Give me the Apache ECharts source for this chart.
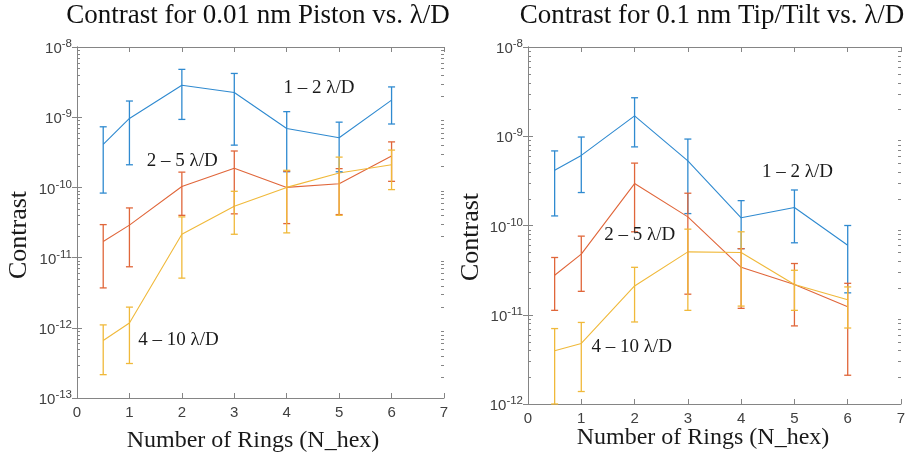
<!DOCTYPE html>
<html>
<head>
<meta charset="utf-8">
<script src="https://cdn.jsdelivr.net/npm/echarts@6/dist/echarts.min.js"></script>
<style>
    html, body { margin: 0; padding: 0; background: #fff; }
    #chart { width: 918px; height: 458px; }
</style>
</head>
<body>
<div id="chart"></div>
<script>
// x positions (number of rings)
const rings = [0.5, 1, 2, 3, 4, 5, 6];
const xTicks = [0, 1, 2, 3, 4, 5, 6, 7];

// Contrast for 0.01 nm piston
const piston12 = [4.1e-10, 9.6e-10, 2.85e-9, 2.25e-9, 6.9e-10, 5.1e-10, 1.75e-9];
const piston12Lo = [8.3e-11, 2.1e-10, 9.3e-10, 4.0e-10, 1.67e-10, 1.67e-10, 8.0e-10];
const piston12Hi = [7.3e-10, 1.7e-9, 4.8e-9, 4.2e-9, 1.2e-9, 8.5e-10, 2.7e-9];
const piston25 = [1.7e-11, 2.9e-11, 1.03e-10, 1.88e-10, 1.0e-10, 1.13e-10, 2.8e-10];
const piston25Lo = [3.7e-12, 7.4e-12, 4.0e-11, 4.2e-11, 3.05e-11, 4.1e-11, 1.22e-10];
const piston25Hi = [2.95e-11, 5.1e-11, 1.65e-10, 3.3e-10, 1.7e-10, 1.85e-10, 4.45e-10];
const piston410 = [6.6e-13, 1.17e-12, 2.15e-11, 5.4e-11, 1.0e-10, 1.6e-10, 2.1e-10];
const piston410Lo = [2.15e-13, 3.1e-13, 5.1e-12, 2.15e-11, 2.25e-11, 4.0e-11, 9.3e-11];
const piston410Hi = [1.1e-12, 1.97e-12, 3.8e-11, 8.8e-11, 1.75e-10, 2.7e-10, 3.4e-10];

// Contrast for 0.1 nm tip/tilt
const tipTilt12 = [4.15e-10, 6.1e-10, 1.69e-9, 5.3e-10, 1.22e-10, 1.59e-10, 6.0e-11];
const tipTilt12Lo = [1.28e-10, 2.34e-10, 7.6e-10, 1.36e-10, 5.5e-11, 6.4e-11, 1.76e-11];
const tipTilt12Hi = [6.85e-10, 9.8e-10, 2.7e-9, 9.3e-10, 1.9e-10, 2.5e-10, 1.0e-10];
const tipTilt25 = [2.77e-11, 4.77e-11, 2.95e-10, 1.25e-10, 3.4e-11, 2.18e-11, 1.23e-11];
const tipTilt25Lo = [1.12e-11, 1.83e-11, 8.5e-11, 1.7e-11, 1.18e-11, 7.5e-12, 2.1e-12];
const tipTilt25Hi = [4.38e-11, 7.6e-11, 5.0e-10, 2.3e-10, 5.5e-11, 3.75e-11, 2.25e-11];
const tipTilt410 = [3.95e-12, 4.77e-12, 2.1e-11, 5.06e-11, 4.98e-11, 2.18e-11, 1.47e-11];
const tipTilt410Lo = [1.0e-12, 1.38e-12, 8.3e-12, 1.12e-11, 1.25e-11, 1.12e-11, 7.1e-12];
const tipTilt410Hi = [7.0e-12, 8.2e-12, 3.4e-11, 9.1e-11, 8.5e-11, 3.15e-11, 2.05e-11];

const bandNames = ['1 \u2013 2 \u03bb/D', '2 \u2013 5 \u03bb/D', '4 \u2013 10 \u03bb/D'];
// where the band labels sit, in data coordinates
const pistonLabelAt = [[3.94, 2.57e-9], [1.33, 2.37e-10], [1.17, 6.7e-13]];
const tipTiltLabelAt = [[4.39, 3.98e-10], [1.43, 7.8e-11], [1.19, 4.37e-12]];

const colors = ['#2f8ad0', '#e0663a', '#f0b93a'];
const axisColor = '#858585';
const serif = '"Liberation Serif", "Times New Roman", serif';
const sans = '"Liberation Sans", Arial, sans-serif';

const panels = [
    {
        title: 'Contrast for 0.01 nm Piston vs. \u03bb/D',
        grid: { left: 77, top: 47, width: 367, height: 351 },
        yMin: 1e-13, yMax: 1e-8,
        mid: [piston12, piston25, piston410],
        lo: [piston12Lo, piston25Lo, piston410Lo],
        hi: [piston12Hi, piston25Hi, piston410Hi],
        labelAt: pistonLabelAt,
        titleX: 258, xNameX: 253, xNameY: 441, yNameX: 19, yNameY: 235
    },
    {
        title: 'Contrast for 0.1 nm Tip/Tilt vs. \u03bb/D',
        grid: { left: 528, top: 47, width: 373, height: 357 },
        yMin: 1e-12, yMax: 1e-8,
        mid: [tipTilt12, tipTilt25, tipTilt410],
        lo: [tipTilt12Lo, tipTilt25Lo, tipTilt410Lo],
        hi: [tipTilt12Hi, tipTilt25Hi, tipTilt410Hi],
        labelAt: tipTiltLabelAt,
        titleX: 712, xNameX: 703, xNameY: 438, yNameX: 471, yNameY: 237
    }
];

const errorBarItem = (params, api) => {
    const x = api.value(0);
    const lo = api.coord([x, api.value(1)]);
    const hi = api.coord([x, api.value(2)]);
    const half = 3.5;
    const style = { stroke: api.visual('color'), lineWidth: 1.3, fill: null };
    return {
        type: 'group',
        children: [
            { type: 'line', shape: { x1: lo[0], y1: lo[1], x2: hi[0], y2: hi[1] }, style },
            { type: 'line', shape: { x1: lo[0] - half, y1: lo[1], x2: lo[0] + half, y2: lo[1] }, style },
            { type: 'line', shape: { x1: hi[0] - half, y1: hi[1], x2: hi[0] + half, y2: hi[1] }, style }
        ]
    };
};

// minor log ticks (2..9 x 10^n) on both the left and right frame
const minorTickItem = (params, api) => {
    const y = Math.round(api.coord([0, api.value(1)])[1]) + 0.5;
    const r = params.coordSys;
    const style = { stroke: axisColor, lineWidth: 1 };
    return {
        type: 'group',
        children: [
            { type: 'line', shape: { x1: r.x, y1: y, x2: r.x + 3, y2: y }, style },
            { type: 'line', shape: { x1: r.x + r.width - 3, y1: y, x2: r.x + r.width, y2: y }, style }
        ]
    };
};

const bandLabelItem = (params, api) => {
    const p = api.coord([api.value(0), api.value(1)]);
    return {
        type: 'text',
        x: p[0],
        y: p[1],
        style: {
            text: bandNames[params.dataIndex],
            fill: '#1a1a1a',
            font: '19px ' + serif,
            align: 'left',
            verticalAlign: 'middle'
        }
    };
};

const minorValues = (min, max) => {
    const out = [];
    for (let e = Math.round(Math.log10(min)); e < Math.round(Math.log10(max)); e++) {
        for (let m = 2; m <= 9; m++) out.push([0, m * Math.pow(10, e)]);
    }
    return out;
};

const grids = [];
const xAxes = [];
const yAxes = [];
const series = [];
const graphics = [];

panels.forEach((p, g) => {
    grids.push(p.grid);

    const xBase = {
        gridIndex: g, type: 'value', min: xTicks[0], max: xTicks[xTicks.length - 1], interval: 1,
        axisLine: { show: true, lineStyle: { color: axisColor, width: 1 } },
        axisTick: { show: true, inside: true, length: 5, lineStyle: { color: axisColor } },
        splitLine: { show: false }
    };
    xAxes.push(Object.assign({}, xBase, {
        position: 'bottom',
        axisLabel: { margin: 7, fontFamily: sans, fontSize: 15, color: '#404040' }
    }));
    xAxes.push(Object.assign({}, xBase, { position: 'top', axisLabel: { show: false } }));

    const yBase = {
        gridIndex: g, type: 'log', logBase: 10, min: p.yMin, max: p.yMax,
        splitNumber: Math.round(Math.log10(p.yMax / p.yMin)),
        axisLine: { show: true, lineStyle: { color: axisColor, width: 1 } },
        axisTick: { show: true, inside: true, length: 5, lineStyle: { color: axisColor } },
        splitLine: { show: false },
        minorTick: { show: false }
    };
    yAxes.push(Object.assign({}, yBase, {
        position: 'left',
        axisLabel: {
            margin: 5,
            color: '#404040',
            formatter: (v) => '{b|10}{s|' + Math.round(Math.log10(v)) + '}',
            rich: {
                b: { fontFamily: sans, fontSize: 15, color: '#404040', padding: [4, 0, 0, 0] },
                s: { fontFamily: sans, fontSize: 11.5, color: '#404040', padding: [0, 0, 6, 0] }
            }
        }
    }));
    yAxes.push(Object.assign({}, yBase, { position: 'right', axisLabel: { show: false } }));

    const xi = 2 * g;
    const yi = 2 * g;

    p.mid.forEach((vals, b) => {
        series.push({
            type: 'line',
            xAxisIndex: xi, yAxisIndex: yi,
            data: rings.map((x, i) => [x, vals[i]]),
            showSymbol: false,
            lineStyle: { color: colors[b], width: 1.1 },
            itemStyle: { color: colors[b] },
            z: 3,
            silent: true
        });
        series.push({
            type: 'custom',
            xAxisIndex: xi, yAxisIndex: yi,
            data: rings.map((x, i) => [x, p.lo[b][i], p.hi[b][i]]),
            encode: { x: 0, y: [1, 2] },
            itemStyle: { color: colors[b] },
            renderItem: errorBarItem,
            z: 4,
            silent: true
        });
    });

    series.push({
        type: 'custom',
        xAxisIndex: xi, yAxisIndex: yi,
        data: minorValues(p.yMin, p.yMax),
        encode: { x: 0, y: 1 },
        renderItem: minorTickItem,
        z: 5,
        silent: true
    });

    series.push({
        type: 'custom',
        xAxisIndex: xi, yAxisIndex: yi,
        data: p.labelAt,
        encode: { x: 0, y: 1 },
        renderItem: bandLabelItem,
        z: 6,
        silent: true
    });

    graphics.push({
        type: 'text', x: p.titleX, y: 16,
        style: { text: p.title, font: '27px ' + serif, fill: '#111', align: 'center', verticalAlign: 'middle' }
    });
    graphics.push({
        type: 'text', x: p.xNameX, y: p.xNameY,
        style: { text: 'Number of Rings (N_hex)', font: '24px ' + serif, fill: '#1a1a1a', align: 'center', verticalAlign: 'middle' }
    });
    graphics.push({
        type: 'text', x: p.yNameX, y: p.yNameY, rotation: Math.PI / 2,
        style: { text: 'Contrast', font: '26px ' + serif, fill: '#1a1a1a', align: 'center', verticalAlign: 'middle' }
    });
});

const chart = echarts.init(document.getElementById('chart'), null, { renderer: 'canvas' });
chart.setOption({
    animation: false,
    backgroundColor: '#fff',
    grid: grids,
    xAxis: xAxes,
    yAxis: yAxes,
    series: series,
    graphic: graphics
});
</script>
</body>
</html>
